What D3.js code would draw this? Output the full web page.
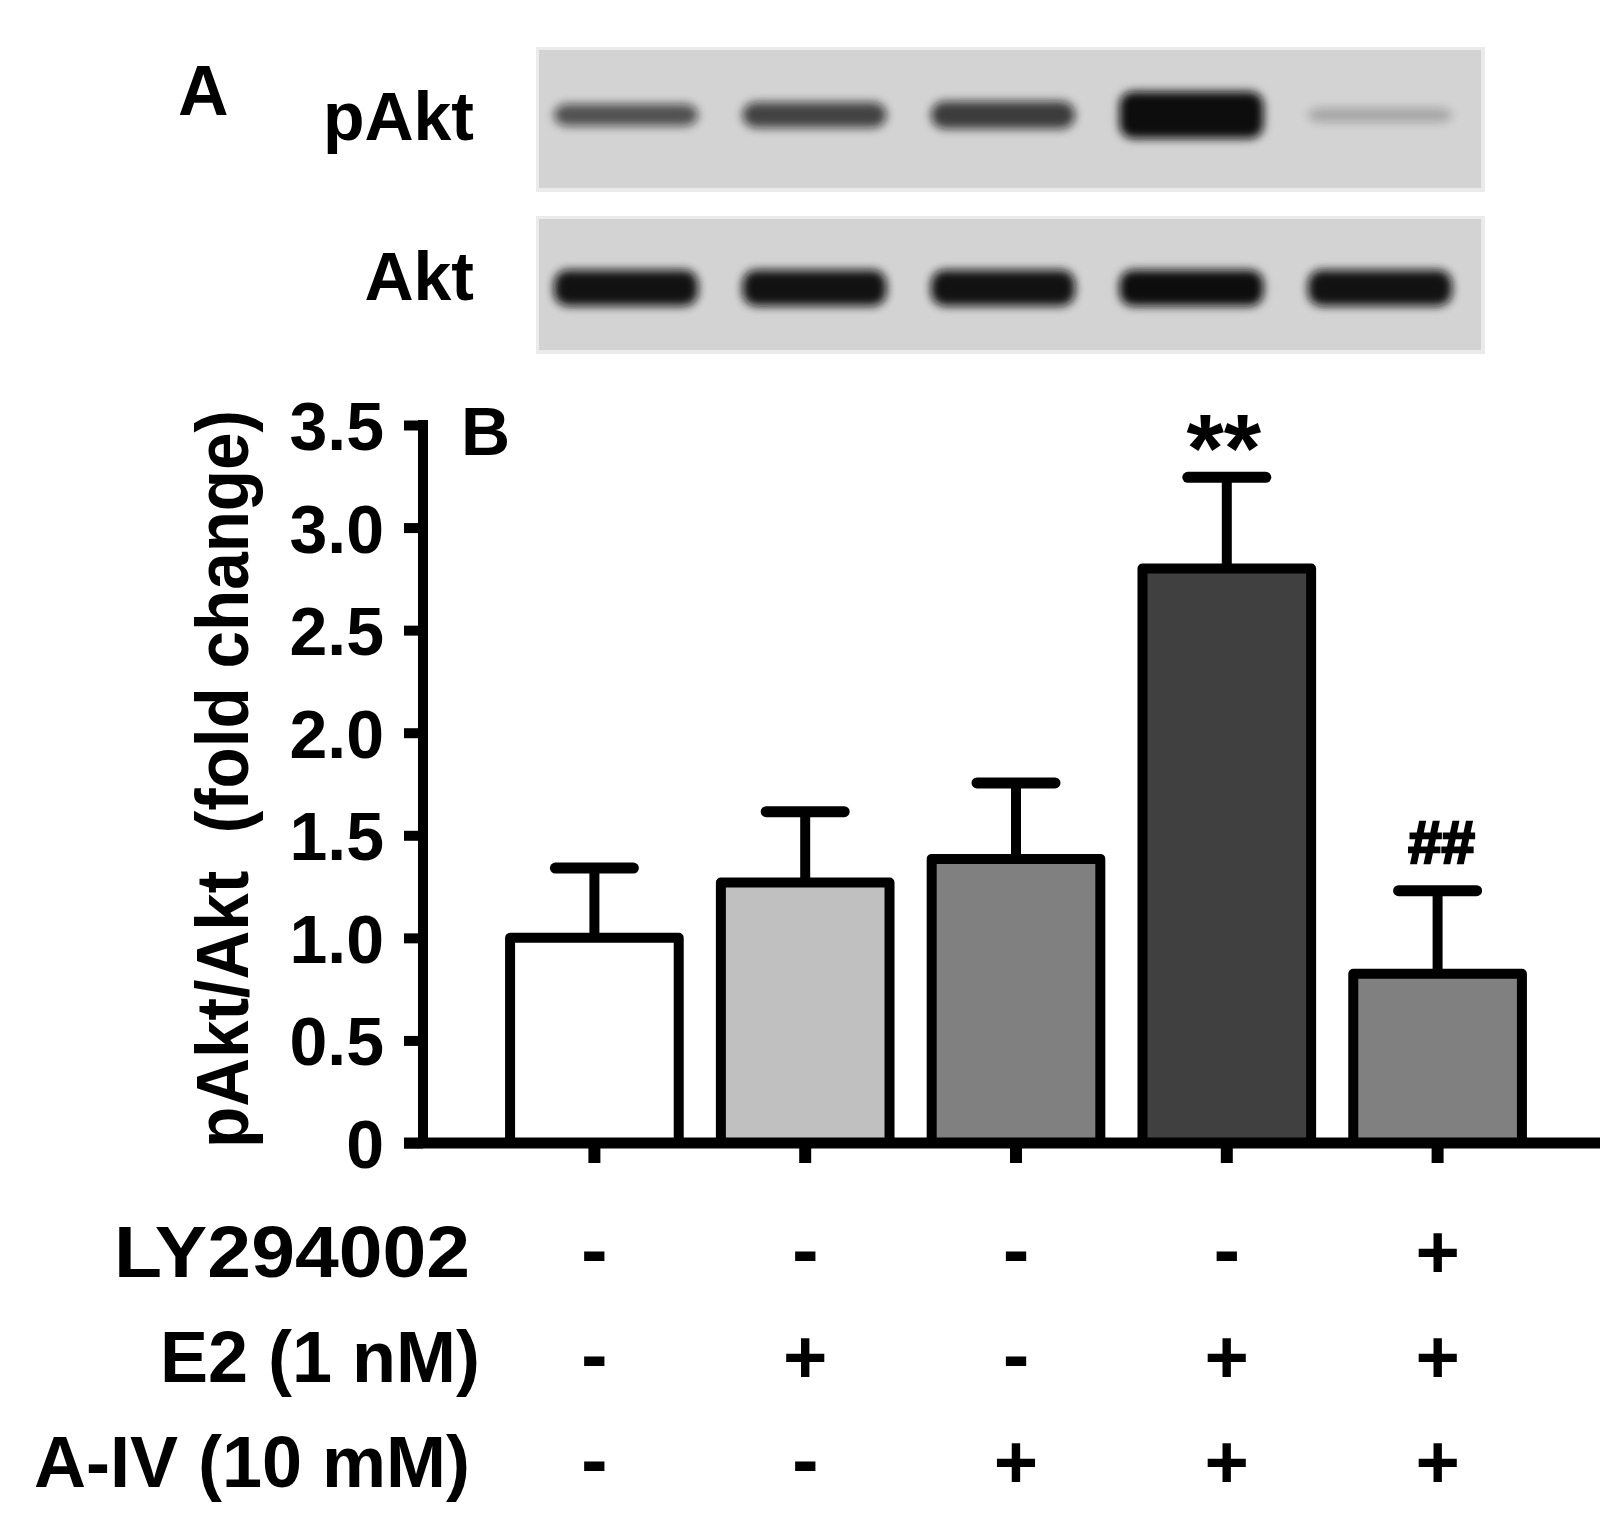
<!DOCTYPE html>
<html>
<head>
<meta charset="utf-8">
<script src="https://cdn.jsdelivr.net/npm/d3@7/dist/d3.min.js"></script>
<style>
  html, body { margin: 0; padding: 0; background: #ffffff; }
  svg { display: block; }
  text { font-family: "Liberation Sans", Arial, sans-serif; font-weight: bold; fill: #000; }
</style>
</head>
<body>
<svg id="chart" width="1623" height="1532"></svg>
<script>
// ---------------- data ----------------
const groups = ["Control", "E2", "A-IV", "E2+A-IV", "E2+A-IV+LY"];
const means = [1.00, 1.27, 1.385, 2.80, 0.825];
const sems  = [0.34, 0.345, 0.37, 0.445, 0.405];
const signif = ["", "", "", "**", "##"];

const yTickValues = [0, 0.5, 1.0, 1.5, 2.0, 2.5, 3.0, 3.5];
const yTickLabels = ["0", "0.5", "1.0", "1.5", "2.0", "2.5", "3.0", "3.5"];
const yTitle = "pAkt/Akt  (fold change)";

const rowLabels = ["LY294002", "E2 (1 nM)", "A-IV (10 mM)"];
const rowLY  = ["-", "-", "-", "-", "+"];
const rowE2  = ["-", "+", "-", "+", "+"];
const rowAIV = ["-", "-", "+", "+", "+"];

// western blot band intensities (relative)
const blotRows = ["pAkt", "Akt"];
const pAktBand = [0.62, 0.70, 0.74, 1.00, 0.16];
const aktBand  = [0.97, 0.97, 0.97, 1.00, 0.97];

// ---------------- styles ----------------
const barFills = ["#ffffff", "#c0c0c0", "#808080", "#404040", "#808080"];

const svg = d3.select("#chart");
svg.append("rect").attr("width", 1623).attr("height", 1532).attr("fill", "#fff");

// ---------------- Panel A: blots ----------------
const defs = svg.append("defs");
defs.append("filter").attr("id", "blur").attr("x", "-30%").attr("y", "-80%")
  .attr("width", "160%").attr("height", "260%")
  .append("feGaussianBlur").attr("stdDeviation", 5);

svg.append("text").attr("x", 178).attr("y", 115).attr("font-size", 70).text("A");

const lane = d3.scalePoint().domain(groups).range([626, 1380]);
const bandOpacity = d3.scaleLinear().domain([0, 1]).range([0.08, 1]);
const bandHeight = d3.scalePow().exponent(3).domain([0, 1]).range([14, 47]);

const blots = [
  { name: blotRows[0], vals: pAktBand, top: 49, bottom: 190, cy: 115, hScale: bandHeight, labelY: 140 },
  { name: blotRows[1], vals: aktBand,  top: 218, bottom: 352, cy: 288, hScale: d3.scaleLinear().domain([0, 1]).range([34, 36]), labelY: 300 }
];

blots.forEach(b => {
  const g = svg.append("g");
  g.append("rect").attr("x", 536).attr("y", b.top - 2).attr("width", 949).attr("height", b.bottom - b.top + 4)
    .attr("fill", "#ebebeb");
  g.append("rect").attr("x", 539).attr("y", b.top + 1).attr("width", 942).attr("height", b.bottom - b.top - 3)
    .attr("fill", "#d3d3d3");
  g.selectAll("rect.band").data(b.vals).join("rect")
    .attr("class", "band")
    .attr("x", (d, i) => lane(groups[i]) - 72)
    .attr("width", 144)
    .attr("y", d => b.cy - b.hScale(d) / 2)
    .attr("height", d => b.hScale(d))
    .attr("rx", 14)
    .attr("fill", "#0a0a0a")
    .attr("opacity", d => bandOpacity(d))
    .attr("filter", "url(#blur)");
  svg.append("text").attr("x", 474).attr("y", b.labelY).attr("text-anchor", "end")
    .attr("font-size", 68).text(b.name);
});

// ---------------- Panel B: bar chart ----------------
const y = d3.scaleLinear().domain([0, 3.5]).range([1143, 425]);
const x = d3.scaleBand().domain(groups).range([489, 1543]).paddingInner(0.2).paddingOuter(0.1);

svg.append("text").attr("x", 461).attr("y", 455).attr("font-size", 68).text("B");

// y axis
const yAxis = d3.axisLeft(y).tickValues(yTickValues)
  .tickFormat((d, i) => yTickLabels[i]).tickSize(19).tickSizeOuter(0).tickPadding(20);
const gy = svg.append("g").attr("transform", "translate(423,0)").call(yAxis);
gy.select(".domain").attr("stroke", "#000").attr("stroke-width", 10)
  .attr("d", `M0,${y(3.5) - 5}V${y(0)}`);
gy.selectAll(".tick line").attr("stroke", "#000").attr("stroke-width", 10);
gy.selectAll(".tick text").attr("font-size", 68).attr("font-family", "Liberation Sans, Arial, sans-serif")
  .attr("font-weight", "bold").attr("fill", "#000").attr("dy", "0.36em");

// y title
svg.append("text")
  .attr("transform", `translate(248,779) rotate(-90)`)
  .attr("text-anchor", "middle").attr("font-size", 74)
  .attr("textLength", 738).attr("lengthAdjust", "spacingAndGlyphs")
  .style("white-space", "pre").attr("xml:space", "preserve")
  .text(yTitle);

// bars
svg.append("g").selectAll("rect").data(means).join("rect")
  .attr("x", (d, i) => x(groups[i]))
  .attr("width", x.bandwidth())
  .attr("y", d => y(d))
  .attr("height", d => y(0) - y(d))
  .attr("fill", (d, i) => barFills[i])
  .attr("stroke", "#000").attr("stroke-width", 10).attr("stroke-linejoin", "round");

// error bars
const eg = svg.append("g");
means.forEach((m, i) => {
  const cx = x(groups[i]) + x.bandwidth() / 2;
  eg.append("line").attr("x1", cx).attr("x2", cx).attr("y1", y(m)).attr("y2", y(m + sems[i]))
    .attr("stroke", "#000").attr("stroke-width", 10);
  eg.append("line").attr("x1", cx - 39).attr("x2", cx + 39).attr("y1", y(m + sems[i])).attr("y2", y(m + sems[i]))
    .attr("stroke", "#000").attr("stroke-width", 11).attr("stroke-linecap", "round");
});

// significance marks
signif.forEach((s, i) => {
  if (!s) return;
  const cx = x(groups[i]) + x.bandwidth() / 2;
  const top = y(means[i] + sems[i]);
  if (s === "**") {
    svg.append("text").attr("x", cx - 3).attr("y", top + 4).attr("text-anchor", "middle")
      .attr("font-size", 96).text(s);
  } else {
    svg.append("text").attr("x", cx + 4).attr("y", top - 28).attr("text-anchor", "middle")
      .attr("font-size", 60).attr("stroke", "#000").attr("stroke-width", 2.5).text(s);
  }
});

// x axis
const xAxis = d3.axisBottom(x).tickSize(20).tickFormat("");
const gx = svg.append("g").attr("transform", `translate(0,${y(0)})`).call(xAxis);
gx.select(".domain").remove();
gx.selectAll(".tick line").attr("stroke", "#000").attr("stroke-width", 12);
svg.append("line").attr("x1", 404).attr("x2", 1600).attr("y1", y(0)).attr("y2", y(0))
  .attr("stroke", "#000").attr("stroke-width", 11);

// treatment table
const rowY = d3.scalePoint().domain(rowLabels).range([1251, 1461]);
const rows = [rowLY, rowE2, rowAIV];
rowLabels.forEach((lab, r) => {
  const t = svg.append("text").attr("x", r === 1 ? 480 : 470).attr("y", rowY(lab)).attr("dy", "0.36em")
    .attr("text-anchor", "end").attr("font-size", 72).text(lab);
  if (r === 0) t.attr("textLength", 356).attr("lengthAdjust", "spacingAndGlyphs");
  svg.append("g").selectAll("text").data(rows[r]).join("text")
    .attr("x", (d, i) => x(groups[i]) + x.bandwidth() / 2)
    .attr("y", rowY(lab))
    .attr("dy", d => d === "+" ? "0.36em" : "0.33em")
    .attr("text-anchor", "middle")
    .attr("font-size", d => d === "+" ? 76 : 80)
    .text(d => d);
});
</script>
</body>
</html>
